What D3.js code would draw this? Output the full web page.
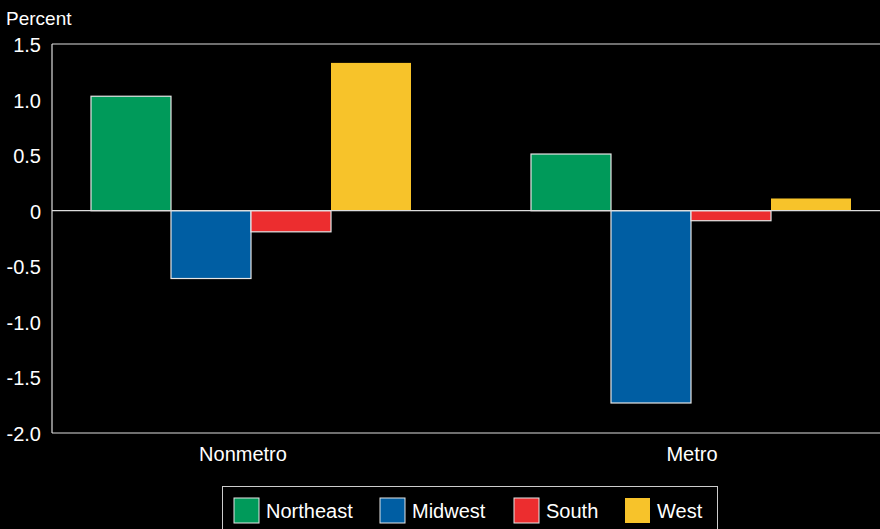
<!DOCTYPE html>
<html>
<head>
<meta charset="utf-8">
<script src="https://cdn.jsdelivr.net/npm/d3@7"></script>
<style>
  html, body { margin: 0; padding: 0; background: #000; }
  svg { display: block; }
</style>
</head>
<body>
<div id="chart"></div>
<script>
// Data
const groups = ['Nonmetro', 'Metro'];
const regions = ['Northeast', 'Midwest', 'South', 'West'];
const nonmetroValues = [1.03, -0.61, -0.19, 1.33];
const metroValues = [0.51, -1.73, -0.09, 0.11];
const yTicks = [1.5, 1.0, 0.5, 0, -0.5, -1.0, -1.5, -2.0];
const yTickLabels = ['1.5', '1.0', '0.5', '0', '-0.5', '-1.0', '-1.5', '-2.0'];
const colors = ['#009a5a', '#005ea3', '#ec2d2f', '#f7c32a'];

const seriesByGroup = { Nonmetro: nonmetroValues, Metro: metroValues };

const width = 880, height = 529;
const margin = { top: 44, left: 52, bottom: 433 };
const font = 'Helvetica, Arial, "Liberation Sans", sans-serif';

const svg = d3.select('#chart').append('svg')
    .attr('width', width)
    .attr('height', height)
    .style('background', '#000');

// Scales
const y = d3.scaleLinear().domain([-2.0, 1.5]).range([margin.bottom, margin.top]);
const x0 = d3.scaleBand().domain(groups).range([31, 911]);
const x1 = d3.scaleBand().domain(regions).range([60, 380]);

// Frame
svg.append('line')
    .attr('x1', margin.left).attr('x2', width)
    .attr('y1', margin.top).attr('y2', margin.top)
    .attr('stroke', '#ddd').attr('stroke-width', 1.2);
svg.append('line')
    .attr('x1', margin.left).attr('x2', margin.left)
    .attr('y1', margin.top).attr('y2', margin.bottom)
    .attr('stroke', '#ddd').attr('stroke-width', 1.2);
svg.append('line')
    .attr('x1', margin.left).attr('x2', width)
    .attr('y1', margin.bottom).attr('y2', margin.bottom)
    .attr('stroke', '#ddd').attr('stroke-width', 1.2);

// Y tick labels
svg.append('g').selectAll('text')
    .data(yTicks)
    .join('text')
    .attr('x', 41)
    .attr('y', d => y(d) + 1)
    .attr('dy', '0.35em')
    .attr('text-anchor', 'end')
    .attr('fill', '#fff')
    .attr('font-family', font)
    .attr('font-size', '20px')
    .text((d, i) => yTickLabels[i]);

svg.append('text')
    .attr('x', 6).attr('y', 25)
    .attr('fill', '#fff')
    .attr('font-family', font)
    .attr('font-size', '19px')
    .text('Percent');

// Bars
const barData = [];
groups.forEach(g => {
    seriesByGroup[g].forEach((v, i) => barData.push({ group: g, region: regions[i], value: v, idx: i }));
});

svg.append('g').selectAll('rect')
    .data(barData)
    .join('rect')
    .attr('x', d => x0(d.group) + x1(d.region))
    .attr('y', d => y(Math.max(0, d.value)))
    .attr('width', x1.bandwidth())
    .attr('height', d => Math.abs(y(d.value) - y(0)))
    .attr('fill', d => colors[d.idx])
    .attr('stroke', d => d.region === 'West' ? 'none' : '#e6e6e6')
    .attr('stroke-width', 1.2);

// Zero line
svg.append('line')
    .attr('x1', margin.left).attr('x2', width)
    .attr('y1', y(0)).attr('y2', y(0))
    .attr('stroke', '#ddd').attr('stroke-width', 1.2);

// Group labels
const labelShift = [-8, 1];
svg.append('g').selectAll('text')
    .data(groups)
    .join('text')
    .attr('x', (d, i) => x0(d) + x0.bandwidth() / 2 + labelShift[i])
    .attr('y', 461)
    .attr('text-anchor', 'middle')
    .attr('fill', '#fff')
    .attr('font-family', font)
    .attr('font-size', '20px')
    .text(d => d);

// Legend
svg.append('rect')
    .attr('x', 222.5).attr('y', 486.5)
    .attr('width', 495).attr('height', 50)
    .attr('fill', '#000')
    .attr('stroke', '#ccc').attr('stroke-width', 1);

const legendX = [234, 380, 514, 625];
const legend = svg.append('g').selectAll('g')
    .data(regions)
    .join('g')
    .attr('transform', (d, i) => `translate(${legendX[i]},498)`);

legend.append('rect')
    .attr('width', 25).attr('height', 25)
    .attr('fill', (d, i) => colors[i])
    .attr('stroke', d => d === 'West' ? 'none' : '#e6e6e6')
    .attr('stroke-width', 1);

legend.append('text')
    .attr('x', 32).attr('y', 13)
    .attr('dy', '0.35em')
    .attr('fill', '#fff')
    .attr('font-family', font)
    .attr('font-size', '20px')
    .text(d => d);
</script>
</body>
</html>
